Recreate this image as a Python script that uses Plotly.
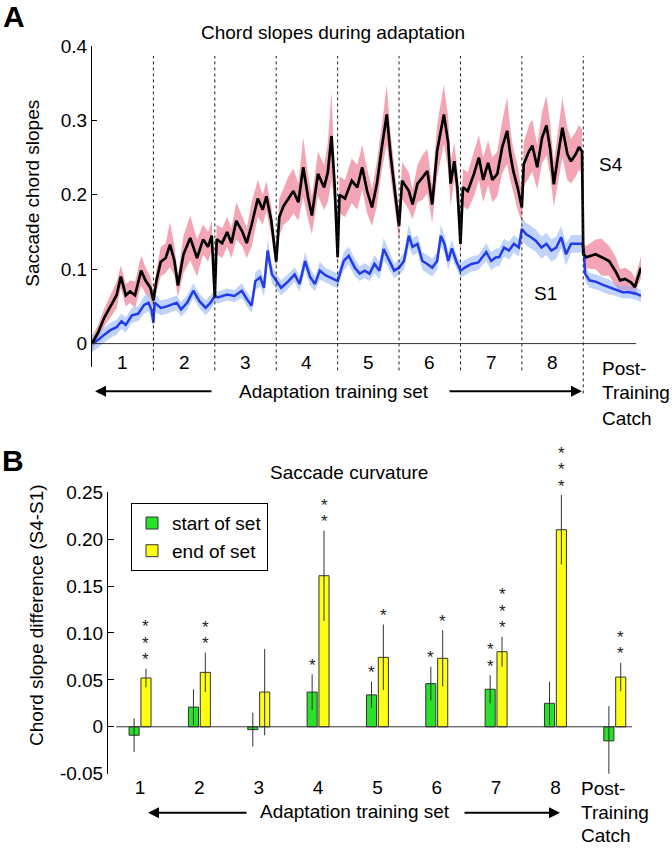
import plotly.graph_objects as go

# ---- panel A: chord slopes during adaptation (x in units of training sets)
s4_t = [0.00, 0.10, 0.20, 0.30, 0.40, 0.47, 0.55, 0.62, 0.70, 0.80, 0.87, 0.95, 1.00,
        1.05, 1.12, 1.20, 1.27, 1.34, 1.40, 1.49, 1.60, 1.71, 1.81, 1.89, 1.95, 2.00,
        2.03, 2.12, 2.20, 2.27, 2.35, 2.45, 2.52, 2.60, 2.70, 2.78, 2.84, 2.92, 3.00,
        3.05, 3.12, 3.20, 3.28, 3.36, 3.44, 3.52, 3.58, 3.68, 3.78, 3.84, 3.90, 3.95, 4.00,
        4.03, 4.12, 4.23, 4.32, 4.40, 4.48, 4.56, 4.64, 4.72, 4.80, 4.86, 4.93, 5.00,
        5.05, 5.16, 5.22, 5.30, 5.38, 5.46, 5.54, 5.62, 5.73, 5.80, 5.84, 5.90, 5.95, 6.00,
        6.04, 6.12, 6.22, 6.30, 6.37, 6.45, 6.52, 6.60, 6.68, 6.76, 6.81, 6.86, 6.93, 7.00,
        7.03, 7.12, 7.17, 7.25, 7.33, 7.40, 7.46, 7.52, 7.61, 7.66, 7.74, 7.80, 7.88, 7.93, 7.98,
        8.00, 8.05, 8.20, 8.30, 8.42, 8.52, 8.60, 8.68, 8.78, 8.84, 8.89, 8.94]
s4 = [0.000, 0.015, 0.035, 0.050, 0.065, 0.090, 0.065, 0.070, 0.065, 0.098, 0.085, 0.075, 0.058,
      0.085, 0.110, 0.115, 0.133, 0.112, 0.078, 0.120, 0.142, 0.115, 0.140, 0.130, 0.145, 0.062,
      0.140, 0.135, 0.150, 0.135, 0.165, 0.150, 0.135, 0.160, 0.195, 0.180, 0.198, 0.165, 0.110,
      0.170, 0.185, 0.195, 0.205, 0.190, 0.237, 0.196, 0.172, 0.228, 0.210, 0.230, 0.279, 0.215, 0.116,
      0.200, 0.195, 0.219, 0.210, 0.237, 0.205, 0.183, 0.215, 0.264, 0.308, 0.255, 0.205, 0.158,
      0.219, 0.205, 0.187, 0.215, 0.223, 0.232, 0.187, 0.259, 0.308, 0.270, 0.215, 0.245, 0.210, 0.134,
      0.210, 0.205, 0.228, 0.250, 0.220, 0.243, 0.220, 0.228, 0.264, 0.286, 0.255, 0.232, 0.210, 0.183,
      0.241, 0.259, 0.266, 0.237, 0.277, 0.293, 0.262, 0.214, 0.264, 0.290, 0.255, 0.245, 0.255, 0.264, 0.258,
      0.120, 0.116, 0.120, 0.116, 0.111, 0.098, 0.085, 0.087, 0.082, 0.076, 0.090, 0.102]
s4_sem = [0.010, 0.010, 0.012, 0.015, 0.018, 0.015, 0.015, 0.015, 0.018, 0.020, 0.018, 0.015, 0.012,
          0.015, 0.020, 0.020, 0.030, 0.020, 0.015, 0.025, 0.030, 0.025, 0.020, 0.020, 0.020, 0.010,
          0.020, 0.020, 0.020, 0.020, 0.025, 0.020, 0.020, 0.030, 0.025, 0.020, 0.020, 0.020, 0.010,
          0.025, 0.025, 0.030, 0.030, 0.025, 0.040, 0.030, 0.025, 0.030, 0.030, 0.040, 0.060, 0.030, 0.015,
          0.025, 0.025, 0.030, 0.030, 0.030, 0.030, 0.025, 0.030, 0.030, 0.040, 0.030, 0.025, 0.020,
          0.025, 0.025, 0.020, 0.025, 0.030, 0.030, 0.025, 0.035, 0.040, 0.035, 0.030, 0.025, 0.025, 0.015,
          0.025, 0.025, 0.030, 0.030, 0.030, 0.030, 0.030, 0.030, 0.035, 0.045, 0.035, 0.030, 0.030, 0.020,
          0.030, 0.035, 0.035, 0.030, 0.035, 0.040, 0.035, 0.030, 0.035, 0.040, 0.035, 0.030, 0.030, 0.030, 0.030,
          0.015, 0.015, 0.020, 0.025, 0.020, 0.020, 0.015, 0.015, 0.015, 0.012, 0.012, 0.015]

s1_t = [0.00, 0.10, 0.20, 0.30, 0.40, 0.48, 0.55, 0.65, 0.75, 0.85, 0.92, 0.97, 1.00,
        1.02, 1.12, 1.22, 1.38, 1.45, 1.55, 1.65, 1.75, 1.85, 1.93, 2.00,
        2.05, 2.20, 2.32, 2.44, 2.52, 2.60, 2.66, 2.74, 2.80, 2.86, 2.93, 3.00,
        3.08, 3.20, 3.30, 3.38, 3.47, 3.55, 3.63, 3.71, 3.80, 3.90, 4.00,
        4.10, 4.18, 4.28, 4.36, 4.44, 4.52, 4.60, 4.68, 4.75, 4.82, 4.92, 5.00,
        5.08, 5.16, 5.22, 5.30, 5.38, 5.46, 5.54, 5.62, 5.68, 5.74, 5.80, 5.86, 5.93, 6.00,
        6.07, 6.18, 6.29, 6.42, 6.50, 6.58, 6.63, 6.71, 6.79, 6.87, 6.95, 7.00,
        7.07, 7.15, 7.23, 7.32, 7.40, 7.48, 7.56, 7.64, 7.72, 7.80, 7.88, 7.98,
        8.01, 8.03, 8.10, 8.21, 8.32, 8.42, 8.53, 8.64, 8.75, 8.86, 8.94]
s1 = [0.000, 0.005, 0.012, 0.018, 0.022, 0.030, 0.025, 0.038, 0.040, 0.052, 0.055, 0.045, 0.028,
      0.055, 0.048, 0.050, 0.055, 0.046, 0.055, 0.071, 0.057, 0.048, 0.055, 0.064,
      0.062, 0.066, 0.064, 0.071, 0.060, 0.051, 0.084, 0.089, 0.075, 0.125, 0.093, 0.084,
      0.075, 0.084, 0.093, 0.080, 0.111, 0.090, 0.080, 0.098, 0.092, 0.088, 0.084,
      0.111, 0.118, 0.102, 0.094, 0.098, 0.094, 0.107, 0.098, 0.127, 0.115, 0.098, 0.102,
      0.111, 0.145, 0.130, 0.134, 0.111, 0.107, 0.102, 0.111, 0.145, 0.134, 0.111, 0.128, 0.111, 0.098,
      0.102, 0.107, 0.109, 0.123, 0.111, 0.116, 0.116, 0.129, 0.125, 0.134, 0.129, 0.154,
      0.147, 0.143, 0.138, 0.129, 0.134, 0.125, 0.129, 0.143, 0.120, 0.134, 0.134, 0.134,
      0.125, 0.094, 0.085, 0.083, 0.079, 0.076, 0.072, 0.069, 0.069, 0.067, 0.064]
s1_sem = [0.012, 0.010, 0.010, 0.010, 0.010, 0.010, 0.010, 0.010, 0.010, 0.012, 0.012, 0.012, 0.010,
          0.012, 0.010, 0.010, 0.010, 0.010, 0.010, 0.010, 0.010, 0.010, 0.010, 0.008,
          0.008, 0.008, 0.008, 0.010, 0.010, 0.010, 0.012, 0.012, 0.012, 0.015, 0.012, 0.010,
          0.010, 0.010, 0.010, 0.010, 0.012, 0.012, 0.010, 0.012, 0.010, 0.010, 0.010,
          0.012, 0.012, 0.012, 0.010, 0.010, 0.010, 0.012, 0.012, 0.015, 0.012, 0.010, 0.010,
          0.012, 0.015, 0.012, 0.012, 0.012, 0.012, 0.012, 0.012, 0.015, 0.012, 0.012, 0.012, 0.010, 0.010,
          0.010, 0.010, 0.010, 0.012, 0.012, 0.012, 0.012, 0.012, 0.012, 0.012, 0.012, 0.015,
          0.015, 0.015, 0.015, 0.015, 0.015, 0.015, 0.015, 0.015, 0.015, 0.012, 0.012, 0.012,
          0.012, 0.010, 0.010, 0.010, 0.010, 0.010, 0.008, 0.008, 0.008, 0.008, 0.008]

set_labels = ["1", "2", "3", "4", "5", "6", "7", "8"]

# ---- panel B: saccade curvature, start vs end of each set
groups = [1, 2, 3, 4, 5, 6, 7, 8, 9]
group_labels = ["1", "2", "3", "4", "5", "6", "7", "8"]
start_mean = [-0.009, 0.021, -0.003, 0.037, 0.034, 0.046, 0.040, 0.025, -0.015]
start_err = [0.018, 0.019, 0.018, 0.019, 0.014, 0.018, 0.015, 0.023, 0.037]
end_mean = [0.052, 0.058, 0.037, 0.161, 0.074, 0.073, 0.080, 0.210, 0.053]
end_err = [0.010, 0.021, 0.046, 0.048, 0.035, 0.030, 0.016, 0.037, 0.015]
start_stars = [0, 0, 0, 1, 1, 1, 2, 0, 0]
end_stars = [3, 2, 0, 2, 1, 1, 3, 3, 2]

W, H = 672, 852
FONT = "Liberation Sans, Arial, sans-serif"
FS = 19


def px_x(px):
    return px / W


def px_y(py):
    # the page photo shows the figure a little squeezed vertically; undo it
    return 1 - ((py - 9) / 0.977) / H


fig = go.Figure()

# bands
s4_lo = [m - e for m, e in zip(s4, s4_sem)]
s4_hi = [m + e for m, e in zip(s4, s4_sem)]
s1_lo = [m - e for m, e in zip(s1, s1_sem)]
s1_hi = [m + e for m, e in zip(s1, s1_sem)]

fig.add_trace(go.Scatter(x=s4_t, y=s4_lo, mode="lines", line=dict(width=0),
                         showlegend=False, hoverinfo="skip", xaxis="x", yaxis="y"))
fig.add_trace(go.Scatter(x=s4_t, y=s4_hi, mode="lines", line=dict(width=0), fill="tonexty",
                         fillcolor="rgba(236,110,135,0.62)", showlegend=False, hoverinfo="skip",
                         xaxis="x", yaxis="y"))
fig.add_trace(go.Scatter(x=s1_t, y=s1_lo, mode="lines", line=dict(width=0),
                         showlegend=False, hoverinfo="skip", xaxis="x", yaxis="y"))
fig.add_trace(go.Scatter(x=s1_t, y=s1_hi, mode="lines", line=dict(width=0), fill="tonexty",
                         fillcolor="rgba(140,175,248,0.55)", showlegend=False, hoverinfo="skip",
                         xaxis="x", yaxis="y"))
fig.add_trace(go.Scatter(x=s1_t, y=s1, mode="lines", line=dict(color="rgb(35,60,235)", width=2.5),
                         showlegend=False, xaxis="x", yaxis="y"))
fig.add_trace(go.Scatter(x=s4_t, y=s4, mode="lines", line=dict(color="black", width=2.7),
                         showlegend=False, xaxis="x", yaxis="y"))

# bars
fig.add_trace(go.Bar(x=groups, y=start_mean, name="start of set",
                     marker=dict(color="rgb(40,225,40)", line=dict(color="#333", width=1)),
                     error_y=dict(type="data", array=start_err, color="#333", thickness=1, width=0),
                     xaxis="x2", yaxis="y2"))
fig.add_trace(go.Bar(x=groups, y=end_mean, name="end of set",
                     marker=dict(color="rgb(255,255,20)", line=dict(color="#333", width=1)),
                     error_y=dict(type="data", array=end_err, color="#333", thickness=1, width=0),
                     xaxis="x2", yaxis="y2"))

shapes = []
for i in range(1, 9):
    shapes.append(dict(type="line", xref="x", yref="paper", x0=i, x1=i,
                       y0=px_y(393 if i == 8 else 370), y1=px_y(55),
                       line=dict(color="#222", width=1, dash="dot")))
shapes.append(dict(type="line", xref="x", yref="y", x0=0, x1=8.86, y0=0, y1=0,
                   line=dict(color="#333", width=1)))
shapes.append(dict(type="line", xref="x2", yref="y2", x0=0.6, x1=9.29, y0=0, y1=0,
                   line=dict(color="#333", width=1)))

ann = []


def txt(x, y, s, size=FS, xref="paper", yref="paper", xanchor="center", **kw):
    ann.append(dict(x=x, y=y, xref=xref, yref=yref, text=s, showarrow=False,
                    xanchor=xanchor, yanchor="middle", font=dict(size=size, color="black", family=FONT), **kw))


def arrow(x_head, x_tail, py):
    ann.append(dict(x=px_x(x_head), y=px_y(py), ax=x_tail - x_head, ay=0, xref="paper", yref="paper",
                    axref="pixel", ayref="pixel", text="", showarrow=True, arrowhead=2,
                    arrowsize=1.1, arrowwidth=2, arrowcolor="black"))


txt(px_x(14), px_y(16), "<b>A</b>", size=30)
txt(px_x(13), px_y(460), "<b>B</b>", size=30)
txt(px_x(333), px_y(32), "Chord slopes during adaptation")
txt(px_x(349), px_y(472), "Saccade curvature")
txt(px_x(33), px_y(193), "Saccade chord slopes", textangle=-90)
txt(px_x(37), px_y(615), "Chord slope difference (S4-S1)", textangle=-90)
txt(px_x(597), px_y(164), "S4", xanchor="left")
txt(px_x(532), px_y(293), "S1", xanchor="left")

for i, lab in enumerate(set_labels):
    txt(i + 0.5, px_y(362), lab, xref="x")

txt(px_x(600), px_y(368), "Post-", xanchor="left")
txt(px_x(600), px_y(392), "Training", xanchor="left")
txt(px_x(600), px_y(418), "Catch", xanchor="left")
txt(px_x(334), px_y(391), "Adaptation training set")
arrow(95, 213, 391)
arrow(582, 448, 391)

txt(px_x(579), px_y(789), "Post-", xanchor="left")
txt(px_x(579), px_y(813), "Training", xanchor="left")
txt(px_x(579), px_y(836), "Catch", xanchor="left")
txt(px_x(355), px_y(812), "Adaptation training set")
arrow(148, 248, 813)
arrow(560, 463, 813)

# significance stars, one per annotation stacked upward
for dx, means, errs, counts in [(-0.1, start_mean, start_err, start_stars),
                                (0.1, end_mean, end_err, end_stars)]:
    for g, m, e, n in zip(groups, means, errs, counts):
        for k in range(n):
            ann.append(dict(x=g + dx, y=m + e, xref="x2", yref="y2", text="*",
                            showarrow=False, yanchor="middle", valign="top", height=15,
                            borderpad=0, yshift=11 + 16.5 * k,
                            font=dict(size=17, color="#222", family=FONT)))

fig.update_layout(
    width=W, height=H,
    margin=dict(l=0, r=0, t=0, b=0),
    paper_bgcolor="white", plot_bgcolor="white",
    font=dict(family=FONT, size=FS, color="black"),
    barmode="group", bargap=0.6, bargroupgap=0.15,
    shapes=shapes, annotations=ann,
    showlegend=True,
    legend=dict(x=px_x(131), y=px_y(503), xanchor="left", yanchor="top", traceorder="normal",
                bordercolor="black", borderwidth=1, bgcolor="white",
                font=dict(size=FS, family=FONT, color="black"), tracegroupgap=0),
    xaxis=dict(domain=[px_x(92), px_x(641)], range=[0, 8.94], visible=False, anchor="y"),
    yaxis=dict(domain=[px_y(367), px_y(45)], range=[-0.032, 0.4], anchor="x",
               showline=True, linecolor="black", linewidth=1, ticks="inside", ticklen=5,
               tickcolor="black", tickvals=[0, 0.1, 0.2, 0.3, 0.4],
               ticktext=["0", "0.1", "0.2", "0.3", "0.4"], showgrid=False, zeroline=False,
               tickfont=dict(size=FS)),
    xaxis2=dict(domain=[px_x(108), px_x(632)], range=[0.46, 9.29], anchor="y2",
                showline=False, showgrid=False, zeroline=False, ticks="",
                tickvals=groups[:8], ticktext=group_labels, tickfont=dict(size=FS)),
    yaxis2=dict(domain=[px_y(774), px_y(492)], range=[-0.05, 0.25], anchor="x2",
                showline=True, linecolor="black", linewidth=1, ticks="inside", ticklen=6,
                tickcolor="black", tickvals=[-0.05, 0, 0.05, 0.1, 0.15, 0.2, 0.25],
                ticktext=["-0.05", "0", "0.05", "0.10", "0.15", "0.20", "0.25"],
                showgrid=False, zeroline=False, tickfont=dict(size=FS)),
)

# the page body has a default 8px margin; drop it so the figure fills the window
fig.write_html("out.html", config={"displayModeBar": False},
               post_script="document.body.style.margin='0';document.body.style.overflow='hidden';")
